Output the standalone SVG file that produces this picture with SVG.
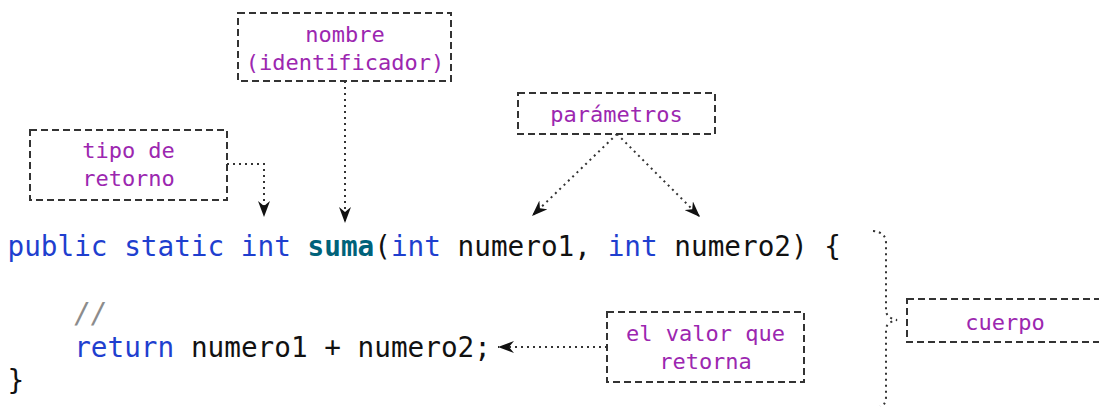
<svg xmlns="http://www.w3.org/2000/svg" width="1099" height="407" viewBox="0 0 1099 407">
<defs>
<style>
.box{fill:none;stroke:#333;stroke-width:2;stroke-dasharray:7 4}
.lbl{font-family:"DejaVu Sans Mono","Liberation Mono",monospace;font-size:22px;fill:#9C27B0;text-anchor:middle}
.code{font-family:"DejaVu Sans Mono","Liberation Mono",monospace;font-size:27.7px;fill:#111}
.kw{fill:#1f3fcf}
.fn{fill:#00627A;font-weight:bold}
.cm{fill:#8C8C8C;font-style:italic}
.con{fill:none;stroke:#333;stroke-width:2;stroke-dasharray:2 4}
</style>
<marker id="arr" viewBox="0 0 16 12" refX="16" refY="6" markerWidth="16" markerHeight="12" markerUnits="userSpaceOnUse" orient="auto">
<path d="M0,0 L16,6 L0,12 L5,6 z" fill="#111"/>
</marker>
</defs>
<rect width="1099" height="407" fill="#fff"/>

<g id="code">
<text class="code" x="7.5" y="256" xml:space="preserve"><tspan class="kw">public static int</tspan> <tspan class="fn">suma</tspan>(<tspan class="kw">int</tspan> numero1, <tspan class="kw">int</tspan> numero2) {</text>
<text class="code" x="7.5" y="323" xml:space="preserve">    <tspan class="cm">//</tspan></text>
<text class="code" x="7.5" y="357" xml:space="preserve">    <tspan class="kw">return</tspan> numero1 + numero2;</text>
<text class="code" x="7.5" y="390">}</text>
</g>

<g id="nombre">
<rect class="box" x="238" y="13" width="213" height="68"/>
<text class="lbl" x="345" y="42">nombre</text>
<text class="lbl" x="345" y="70">(identificador)</text>
</g>

<g id="tipo">
<rect class="box" x="30" y="130" width="197" height="70"/>
<text class="lbl" x="128.5" y="158">tipo de</text>
<text class="lbl" x="128.5" y="186">retorno</text>
</g>

<g id="parametros">
<rect class="box" x="518" y="93" width="197" height="41"/>
<text class="lbl" x="616.5" y="122">parámetros</text>
</g>

<g id="valor">
<rect class="box" x="607" y="312" width="197" height="70"/>
<text class="lbl" x="705.5" y="341">el valor que</text>
<text class="lbl" x="705.5" y="369">retorna</text>
</g>

<g id="cuerpo">
<rect class="box" x="907" y="299" width="196" height="43"/>
<text class="lbl" x="1005" y="330">cuerpo</text>
</g>

<g id="connectors">
<path class="con" d="M227,164 L264,164 L264,217" marker-end="url(#arr)"/>
<path class="con" d="M345,81 L345,223" marker-end="url(#arr)"/>
<path class="con" d="M617,134 L532,216" marker-end="url(#arr)"/>
<path class="con" d="M617,134 L700,217" marker-end="url(#arr)"/>
<path class="con" d="M607,347 L498,347" marker-end="url(#arr)"/>
<path class="con" d="M873,231 Q886,232 886,243 L886,310 Q886,318 897,320 Q886,322 886,330 L886,397 Q886,405 880,406"/>
</g>
</svg>
